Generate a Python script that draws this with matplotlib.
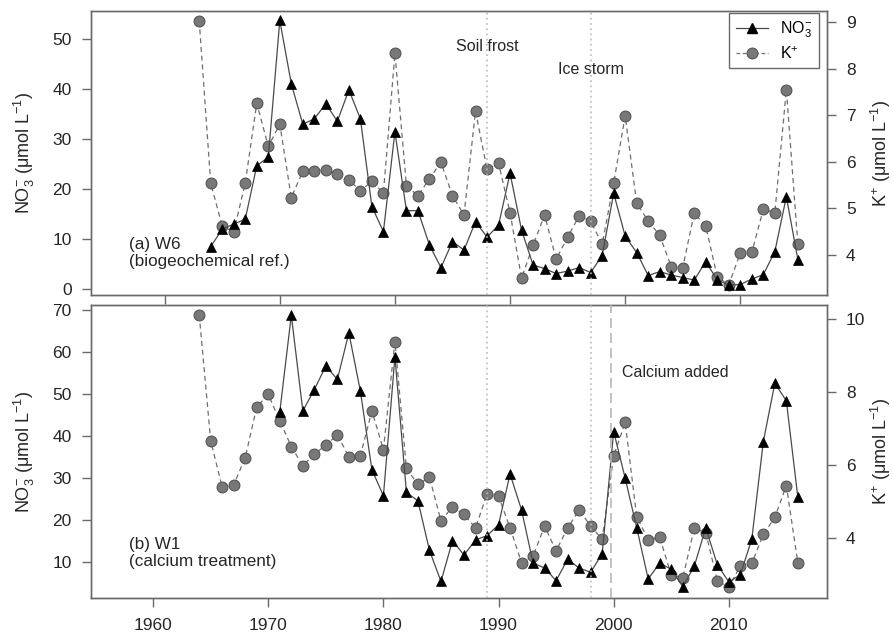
import numpy as np
import matplotlib
matplotlib.use("Agg")
import matplotlib.pyplot as plt
from matplotlib.lines import Line2D

plt.rcParams['font.family'] = ['Liberation Sans', 'DejaVu Sans']
plt.rcParams['mathtext.fontset'] = 'custom'
plt.rcParams['mathtext.rm'] = 'Liberation Sans'
plt.rcParams['mathtext.it'] = 'Liberation Sans:italic'
plt.rcParams['mathtext.bf'] = 'Liberation Sans:bold'

years = np.arange(1964, 2017)
nan = np.nan

# W6, biogeochemical reference watershed
w6_no3 = [nan, 8.5, 12.0, 13.0, 14.0, 24.7, 26.4, 53.8, 41.1, 33.0,
          34.1, 37.1, 33.6, 39.9, 34.1, 16.5, 11.5, 31.5, 15.7, 15.7,
          8.8, 4.3, 9.5, 7.8, 13.5, 10.4, 12.8, 23.2, 11.8, 4.8,
          4.1, 3.1, 3.6, 4.3, 3.3, 6.7, 19.2, 10.6, 7.3, 2.7,
          3.5, 2.8, 2.3, 1.8, 5.5, 1.8, 0.8, 0.9, 2.0, 2.9,
          7.5, 18.5, 5.9]
w6_k = [9.03, 5.54, 4.62, 4.49, 5.55, 7.26, 6.33, 6.81, 5.23, 5.80,
        5.80, 5.83, 5.73, 5.61, 5.38, 5.58, 5.33, 8.33, 5.49, 5.27,
        5.64, 5.99, 5.27, 4.86, 7.09, 5.84, 5.97, 4.91, 3.50, 4.21,
        4.86, 3.91, 4.38, 4.84, 4.73, 4.23, 5.54, 6.99, 5.11, 4.73,
        4.42, 3.75, 3.73, 4.90, 4.62, 3.53, 3.36, 4.04, 4.06, 4.98,
        4.91, 7.55, 4.23]

# W1, calcium treatment watershed
w1_no3 = [nan, nan, nan, nan, nan, nan, nan, 45.8, 68.8, 46.0,
          51.1, 56.7, 53.5, 64.6, 50.7, 32.0, 25.8, 58.9, 26.6, 24.6,
          12.8, 5.4, 15.1, 11.7, 15.3, 16.3, 18.9, 31.0, 22.4, 9.8,
          8.6, 5.6, 10.7, 8.6, 7.6, 12.0, 41.1, 30.0, 18.2, 6.0,
          9.8, 8.3, 4.2, 9.0, 18.2, 9.4, 5.3, 7.0, 15.5, 38.7,
          52.6, 48.4, 25.4]
w1_k = [10.11, 6.65, 5.38, 5.45, 6.20, 7.59, 7.93, 7.20, 6.50, 5.97,
        6.29, 6.54, 6.82, 6.22, 6.25, 7.48, 6.41, 9.38, 5.90, 5.46,
        5.66, 4.46, 4.85, 4.64, 4.27, 5.20, 5.14, 4.27, 3.32, 3.50,
        4.32, 3.64, 4.27, 4.76, 4.32, 3.96, 6.24, 7.16, 4.58, 3.94,
        4.01, 2.98, 2.89, 4.26, 4.14, 2.82, 2.64, 3.23, 3.30, 4.09,
        4.56, 5.43, 3.31]

soil_frost = 1989
ice_storm = 1998
calcium_added = 1999.8

axis_col = '#6a6a6a'
text_col = '#262626'
no3_line = '#4a4a4a'
k_line = '#6e6e6e'
k_fill = '#787878'
event_col = '#b8b8b8'

fig = plt.figure(figsize=(8.93, 6.35), dpi=100)
ax_top = fig.add_axes([0.1019, 0.5354, 0.8238, 0.4473])
ax_bot = fig.add_axes([0.1019, 0.0578, 0.8238, 0.4624])

no3_label = 'NO$_3^{-}$ (μmol L$^{-1}$)'
k_label = 'K$^{+}$ (μmol L$^{-1}$)'


def style_axis(ax):
    for s in ax.spines.values():
        s.set_color(axis_col)
        s.set_linewidth(1.0)
    ax.tick_params(axis='both', colors=axis_col, labelcolor=text_col,
                   length=6.5, width=1.0, pad=7.5, labelsize=12.5)


def draw_panel(ax, no3, k, no3_lim, k_lim, no3_ticks, k_ticks):
    tw = ax.twinx()
    tw.plot(years, k, color=k_line, lw=0.9, ls=(0, (4, 3)), marker='o',
            ms=7.8, mfc=k_fill, mec='#555555', mew=0.8)
    ax.plot(years, no3, color=no3_line, lw=0.9, marker='^', ms=7.8,
            mfc='black', mec='black', mew=0.5)
    ax.set_zorder(tw.get_zorder() + 1)
    ax.patch.set_visible(False)
    ax.axvline(soil_frost, color=event_col, ls=(0, (1.2, 2.2)), lw=1.1, zorder=5)
    ax.axvline(ice_storm, color=event_col, ls=(0, (1.2, 2.2)), lw=1.1, zorder=5)
    ax.set_xlim(1954.6, 2018.5)
    ax.set_ylim(*no3_lim)
    tw.set_ylim(*k_lim)
    ax.set_yticks(no3_ticks)
    tw.set_yticks(k_ticks)
    ax.set_ylabel(no3_label, fontsize=13, color=text_col)
    tw.set_ylabel(k_label, fontsize=13, color=text_col)
    ax.yaxis.set_label_coords(-0.074, 0.5)
    tw.yaxis.set_label_coords(1.058, 0.5)
    style_axis(ax)
    style_axis(tw)
    return tw


tw_top = draw_panel(ax_top, w6_no3, w6_k, (-1.2, 55.7), (3.14, 9.24),
                    [0, 10, 20, 30, 40, 50], [4, 5, 6, 7, 8, 9])
tw_bot = draw_panel(ax_bot, w1_no3, w1_k, (1.4, 71.3), (2.34, 10.39),
                    [10, 20, 30, 40, 50, 60, 70], [4, 6, 8, 10])

# top panel ticks sit one year to the right and carry no labels
ax_top.set_xticks(np.arange(1961, 2012, 10))
ax_top.set_xticklabels([])
ax_bot.set_xticks(np.arange(1960, 2011, 10))
ax_bot.tick_params(axis='x', pad=8)

ax_bot.axvline(calcium_added, color=event_col, ls=(0, (6, 3)), lw=1.2, zorder=5)

ax_top.text(soil_frost, 48.5, 'Soil frost', ha='center', va='center',
            fontsize=11.5, color=text_col)
ax_top.text(ice_storm, 43.9, 'Ice storm', ha='center', va='center',
            fontsize=11.5, color=text_col)
ax_bot.text(2000.7, 55.1, 'Calcium added', ha='left', va='center',
            fontsize=11.5, color=text_col)
ax_top.text(1957.9, 7.2, '(a) W6\n(biogeochemical ref.)', ha='left',
            va='center', fontsize=12.3, color=text_col, linespacing=1.15)
ax_bot.text(1957.9, 12.2, '(b) W1\n(calcium treatment)', ha='left',
            va='center', fontsize=12.3, color=text_col, linespacing=1.15)

handles = [
    Line2D([], [], color=no3_line, lw=0.9, marker='^', ms=7.8,
           mfc='black', mec='black'),
    Line2D([], [], color=k_line, lw=0.9, ls=(0, (3, 2)), marker='o', ms=7.8,
           mfc=k_fill, mec='#555555', mew=0.8),
]
leg = ax_top.legend(handles, ['NO$_3^{-}$', 'K$^{+}$'], loc='upper right',
                    bbox_to_anchor=(0.9895, 0.993), borderaxespad=0,
                    fancybox=False, framealpha=1, edgecolor=axis_col,
                    fontsize=11.5, handlelength=2.0, handletextpad=0.8,
                    borderpad=0.4, labelspacing=0.35)
leg.get_frame().set_linewidth(1.0)
leg.set_zorder(10)

fig.savefig('out.png', dpi=100)
